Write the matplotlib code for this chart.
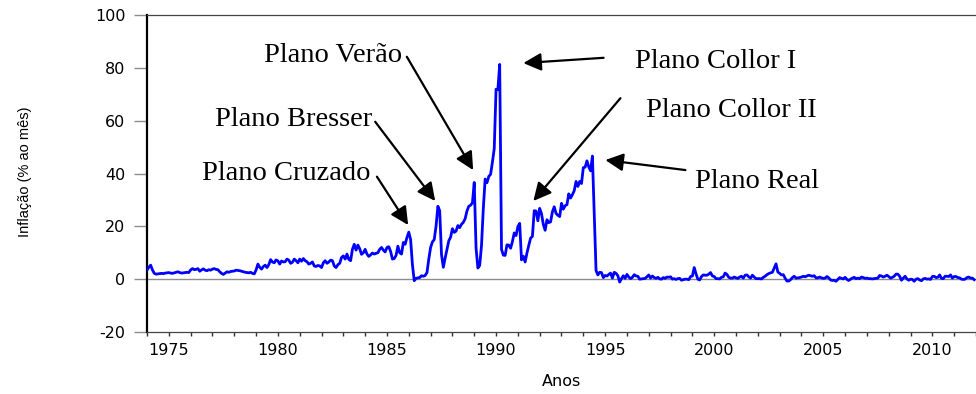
"""Inflação mensal no Brasil 1974-2011 com os planos de estabilização."""
import matplotlib
matplotlib.use("Agg")
import matplotlib.pyplot as plt
import numpy as np

# inflação mensal (% ao mês), jan/1974 .. dez/2011
infl_1974_1979 = [
    3.4, 4.5, 5.3, 3.5, 2.2, 1.9, 2.0, 2.1, 2.2, 2.1, 2.3, 2.4,
    2.5, 2.3, 2.2, 2.4, 2.6, 2.8, 2.5, 2.3, 2.4, 2.5, 2.6, 2.5,
    3.5, 4.0, 3.6, 3.7, 4.0, 3.0, 3.5, 3.9, 3.4, 3.2, 3.6, 3.4,
    3.8, 4.0, 3.7, 3.6, 2.8, 2.2, 1.8, 2.3, 2.8, 2.6, 2.9, 3.0,
    3.1, 3.4, 3.3, 3.2, 3.0, 2.8, 2.6, 2.5, 2.4, 2.6, 2.2, 2.0,
    3.5, 5.7, 4.5, 3.8, 4.8, 5.3, 4.4, 5.5, 7.4, 6.5, 6.2, 7.3,
]
infl_1980_1985 = [
    6.9, 5.7, 6.9, 6.5, 6.6, 7.6, 7.2, 6.0, 6.4, 7.6, 7.0, 6.2,
    7.6, 6.8, 7.8, 7.0, 6.6, 5.7, 6.0, 6.5, 5.0, 4.8, 5.2, 5.0,
    4.4, 6.2, 7.0, 6.0, 6.5, 7.2, 7.0, 5.0, 4.4, 5.5, 6.0, 8.2,
    8.8, 7.6, 9.5, 7.5, 7.0, 11.3, 13.2, 11.0, 12.9, 11.5, 9.4, 10.0,
    11.3, 9.5, 8.6, 9.2, 9.9, 9.5, 9.8, 10.0, 11.3, 12.0, 11.0, 10.3,
    12.0, 12.3, 10.5, 7.6, 7.8, 9.0, 12.5, 10.0, 9.5, 13.9, 13.2, 15.8,
]
infl_1986_1994 = [
    17.8, 15.0, 5.5, -0.6, 0.3, 0.5, 0.6, 1.3, 1.1, 1.4, 2.5, 7.6,
    12.0, 14.1, 15.0, 20.1, 27.6, 25.9, 9.3, 4.5, 8.0, 11.2, 14.5, 15.9,
    19.1, 17.7, 18.2, 20.3, 19.5, 20.8, 21.5, 22.9, 25.8, 27.6, 28.0, 28.9,
    36.6, 11.8, 4.2, 5.2, 12.8, 26.8, 37.9, 36.5, 38.9, 39.7, 44.3, 49.4,
    71.9, 71.7, 81.3, 11.3, 9.1, 9.0, 13.0, 12.9, 11.7, 14.2, 17.5, 16.5,
    19.9, 21.1, 7.3, 8.7, 6.5, 9.9, 12.8, 15.5, 16.2, 25.9, 25.8, 22.1,
    26.8, 24.8, 20.7, 18.5, 22.5, 21.4, 21.7, 25.5, 27.4, 24.9, 24.2, 23.7,
    28.7, 26.5, 27.8, 28.2, 32.3, 30.7, 32.0, 33.5, 37.0, 35.1, 37.0, 36.2,
    42.2, 42.4, 44.8, 42.5, 41.0, 46.6, 24.7, 3.3, 1.6, 2.6, 2.5, 0.6,
]
infl_1995_2003 = [
    1.4, 1.2, 1.8, 2.3, 0.4, 2.6, 2.2, 1.3, -1.1, 0.2, 1.3, 0.3,
    1.8, 0.8, 0.2, 0.7, 1.7, 1.2, 1.1, 0.0, 0.1, 0.2, 0.3, 0.9,
    1.6, 0.4, 1.2, 0.6, 0.3, 0.7, 0.1, 0.0, 0.6, 0.3, 0.8, 0.7,
    0.9, 0.0, 0.2, -0.1, 0.2, 0.3, -0.4, -0.2, 0.0, 0.0, -0.2, 1.0,
    1.2, 4.4, 2.0, 0.0, -0.3, 1.0, 1.6, 1.5, 1.5, 1.9, 2.5, 1.2,
    1.0, 0.2, 0.2, 0.1, 0.7, 0.9, 2.3, 1.8, 0.7, 0.4, 0.4, 0.8,
    0.5, 0.3, 0.8, 1.1, 0.4, 1.5, 1.6, 0.9, 0.4, 1.5, 0.8, 0.2,
    0.2, 0.2, 0.1, 0.7, 1.1, 1.7, 2.1, 2.4, 2.6, 4.2, 5.8, 2.7,
    2.2, 1.6, 1.7, 0.4, -0.7, -0.7, -0.2, 0.6, 1.1, 0.4, 0.5, 0.6,
]
infl_2004_2011 = [
    0.8, 1.1, 0.9, 1.2, 1.5, 1.3, 1.1, 1.3, 0.5, 0.5, 0.8, 0.5,
    0.3, 0.4, 1.0, 0.5, -0.3, -0.5, -0.4, -0.8, -0.1, 0.6, 0.3, 0.1,
    0.7, -0.1, -0.5, 0.0, 0.4, 0.7, 0.2, 0.4, 0.2, 0.8, 0.6, 0.3,
    0.4, 0.2, 0.2, 0.1, 0.2, 0.3, 0.4, 1.4, 1.2, 0.8, 1.1, 1.5,
    1.0, 0.4, 0.7, 1.1, 1.9, 1.9, 1.1, -0.4, 0.4, 1.1, 0.1, -0.4,
    0.0, -0.1, -0.8, 0.0, 0.2, -0.3, -0.6, 0.1, 0.3, 0.0, 0.1, -0.1,
    1.0, 1.1, 0.6, 0.7, 1.6, 0.3, 0.2, 1.1, 1.1, 1.0, 1.6, 0.4,
    1.0, 1.0, 0.6, 0.5, 0.0, -0.1, 0.0, 0.6, 0.8, 0.4, 0.4, -0.2,
]
START_YEAR = 1974

# planos: rótulo, alvo da seta (ano, %)
plans = ["Plano Cruzado", "Plano Bresser", "Plano Verão",
         "Plano Collor I", "Plano Collor II", "Plano Real"]
plan_tips = [(1985.97, 20.5), (1987.21, 29.6), (1988.95, 41.3),
             (1991.25, 81.8), (1991.71, 29.6), (1995.01, 45.1)]

# layout das anotações: posição do texto, alinhamento, início da seta
label_pos = [(1984.23, 37.6, "right"), (1984.31, 58.1, "right"),
             (1985.68, 82.3, "right"), (1996.35, 79.8, "left"),
             (1996.88, 61.5, "left"), (1999.11, 34.4, "left")]
arrow_from = [(1984.54, 38.8), (1984.46, 59.6), (1985.91, 84.2),
              (1994.93, 83.8), (1995.70, 68.5), (1998.68, 41.3)]

infl = np.array(infl_1974_1979 + infl_1980_1985 + infl_1986_1994
                + infl_1995_2003 + infl_2004_2011)
t = START_YEAR + np.arange(len(infl)) / 12

W, H = 976, 394
fig = plt.figure(figsize=(W / 100, H / 100), dpi=100)
ax = fig.add_axes([147 / W, 62 / H, 1 - 147 / W, 317 / H])

ax.axhline(0, color="#8c8c8c", linewidth=1.0, zorder=1)
ax.plot(t, infl, color="#0000ff", linewidth=2.0, zorder=3)

ax.set_xlim(1974, 2012)
ax.set_ylim(-20, 100)
ax.set_yticks(range(-20, 101, 20))
ax.set_xticks(range(1975, 2011, 5))
ax.set_xticks(range(1974, 2013), minor=True)

tick_font = dict(family="DejaVu Sans", size=11.5)
ax.set_xticklabels([str(y) for y in range(1975, 2011, 5)], fontdict=tick_font)
ax.set_yticklabels([str(v) for v in range(-20, 101, 20)], fontdict=tick_font)
ax.tick_params(axis="y", direction="out", length=9.5, width=1.0,
               color="#8c8c8c", pad=6)
ax.tick_params(axis="x", which="both", direction="out", length=3, width=1.0,
               color="#333333", pad=5)

ax.spines["right"].set_visible(False)
ax.spines["left"].set_linewidth(1.6)
ax.spines["left"].set_color("black")
for side in ("top", "bottom"):
    ax.spines[side].set_linewidth(0.9)
    ax.spines[side].set_color("#444444")

for name, tip, (tx, ty, ha), start in zip(plans, plan_tips, label_pos, arrow_from):
    ax.text(tx, ty, name, ha=ha, va="baseline", family="Liberation Serif",
            fontsize=20.5, color="black", zorder=5)
    ax.annotate("", xy=tip, xytext=start,
                arrowprops=dict(arrowstyle="-|>,head_length=0.4,head_width=0.2",
                                mutation_scale=27, lw=1.6, color="black",
                                shrinkA=0, shrinkB=0), zorder=5)

fig.text(561 / W, 1 - 381 / H, "Anos", ha="center", va="center",
         family="DejaVu Sans", fontsize=11.5)
fig.text(25 / W, 1 - 172 / H, "Inflação (% ao mês)", ha="center", va="center",
         rotation=90, family="Liberation Sans", fontsize=10.5)

fig.savefig("out.png", dpi=100)
